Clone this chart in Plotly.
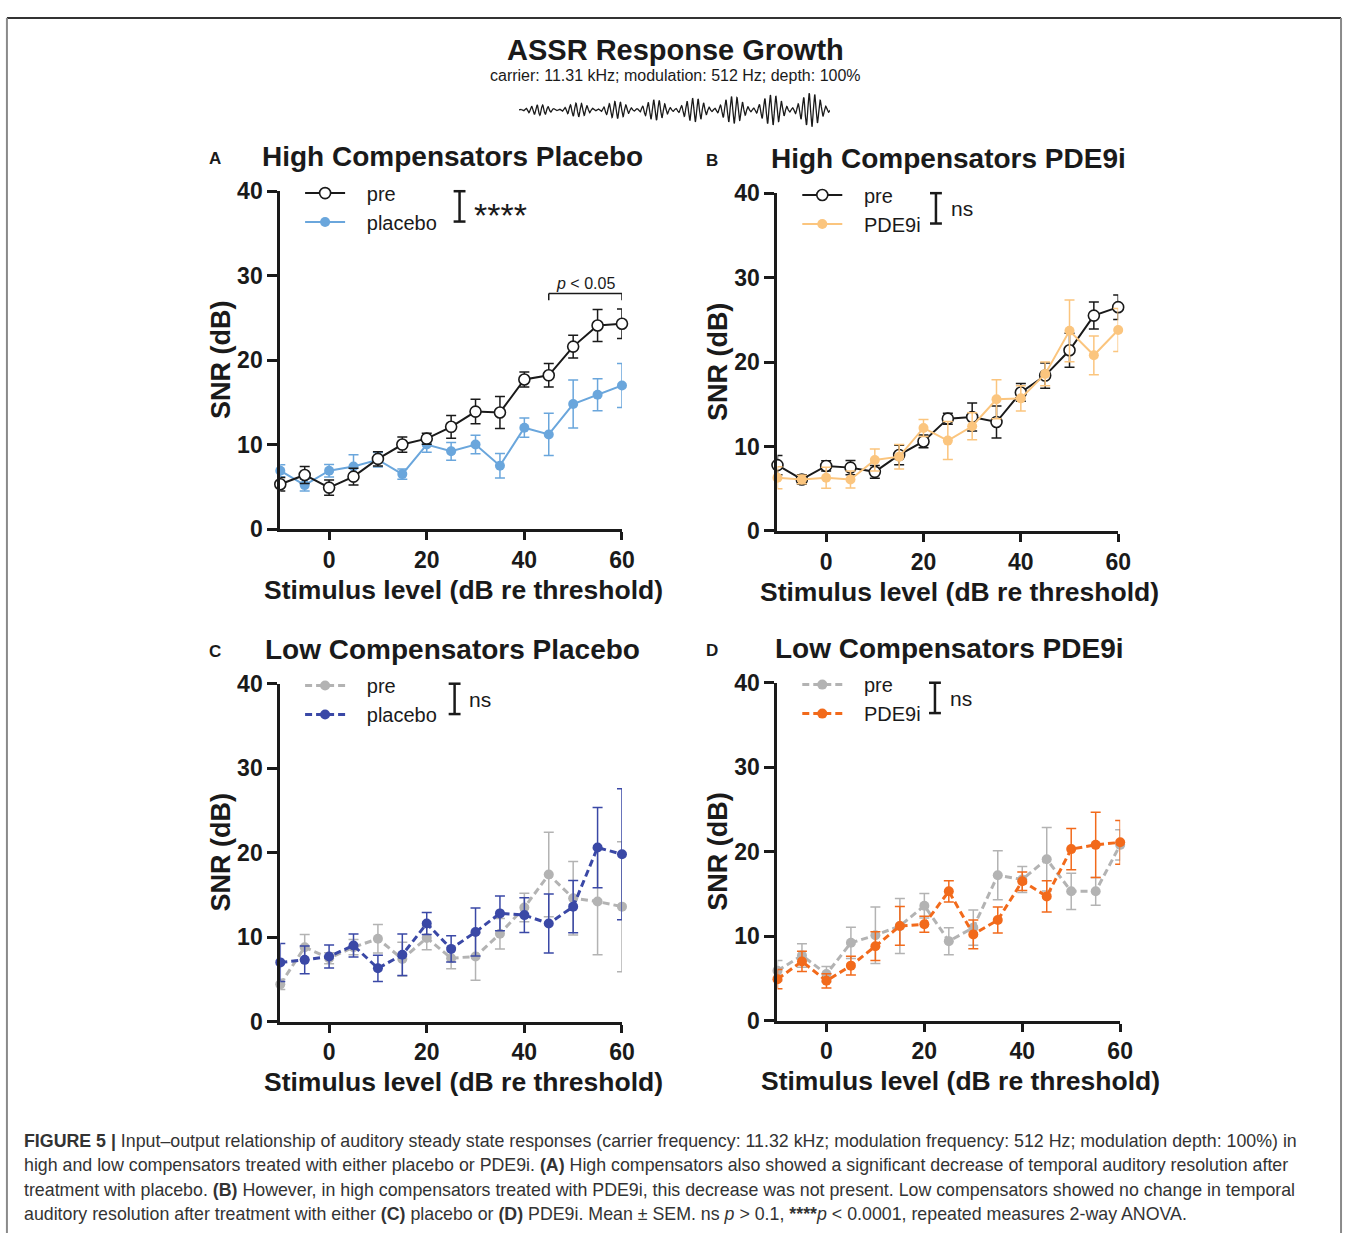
import numpy as np
import plotly.graph_objects as go

W, H = 1357, 1246

# Stimulus levels (dB re threshold)
levels = [-10, -5, 0, 5, 10, 15, 20, 25, 30, 35, 40, 45, 50, 55, 60]

# A: High compensators, placebo
a_pre = [5.3, 6.4, 4.9, 6.2, 8.3, 10.0, 10.7, 12.1, 13.9, 13.8, 17.7, 18.2, 21.6, 24.1, 24.3]
a_pre_sem = [0.8, 1.0, 0.9, 1.0, 0.85, 0.9, 0.65, 1.35, 1.45, 1.9, 0.9, 1.4, 1.35, 1.9, 1.75]
a_placebo = [6.9, 5.2, 6.9, 7.4, 8.2, 6.5, 10.0, 9.2, 10.0, 7.5, 12.0, 11.2, 14.8, 15.9, 17.0]
a_placebo_sem = [0.7, 0.7, 0.75, 1.4, 0.85, 0.6, 0.9, 1.05, 1.1, 1.45, 1.15, 2.5, 2.85, 1.9, 2.6]

# B: High compensators, PDE9i
b_pre = [7.8, 6.1, 7.7, 7.5, 7.0, 9.0, 10.6, 13.3, 13.5, 12.9, 16.4, 18.4, 21.4, 25.5, 26.5]
b_pre_sem = [1.15, 0.55, 0.6, 0.85, 0.75, 1.15, 0.75, 0.65, 1.65, 1.9, 1.05, 1.5, 2.0, 1.6, 1.45]
b_pde9i = [6.3, 6.1, 6.3, 6.1, 8.4, 8.8, 12.2, 10.7, 12.4, 15.6, 15.7, 18.6, 23.7, 20.8, 23.8]
b_pde9i_sem = [1.3, 0.5, 1.25, 1.0, 1.3, 1.45, 1.0, 2.25, 1.6, 2.3, 1.5, 1.4, 3.65, 2.3, 2.55]

# C: Low compensators, placebo
c_pre = [4.4, 8.8, 7.5, 8.8, 9.8, 7.4, 9.9, 7.5, 7.7, 10.4, 13.5, 17.4, 14.6, 14.2, 13.6]
c_pre_sem = [0.6, 1.5, 0.65, 0.9, 1.7, 2.0, 1.4, 1.25, 2.8, 1.8, 1.7, 5.0, 4.35, 6.3, 7.7]
c_placebo = [7.0, 7.3, 7.7, 9.0, 6.3, 7.9, 11.6, 8.6, 10.6, 12.8, 12.6, 11.6, 13.6, 20.6, 19.8]
c_placebo_sem = [2.25, 1.65, 1.35, 1.35, 1.55, 2.45, 1.3, 1.55, 2.85, 2.05, 2.05, 3.5, 3.1, 4.75, 7.75]

# D: Low compensators, PDE9i
d_pre = [5.9, 7.7, 5.5, 9.2, 10.1, 11.2, 13.6, 9.4, 11.0, 17.2, 16.7, 19.1, 15.3, 15.3, 20.8]
d_pre_sem = [1.2, 1.4, 0.9, 1.85, 3.35, 3.25, 1.45, 1.6, 2.1, 2.9, 1.55, 3.75, 2.15, 1.65, 1.8]
d_pde9i = [4.9, 7.0, 4.7, 6.5, 8.8, 11.2, 11.4, 15.3, 10.2, 11.9, 16.5, 14.7, 20.3, 20.8, 21.1]
d_pde9i_sem = [1.15, 1.2, 0.85, 1.1, 1.7, 2.3, 0.95, 1.25, 1.7, 1.55, 1.1, 1.85, 2.45, 3.85, 2.6]

panel_titles = ["High Compensators Placebo", "High Compensators PDE9i",
                "Low Compensators Placebo", "Low Compensators PDE9i"]
panel_letters = ["A", "B", "C", "D"]
stats_labels = ["****", "ns", "ns", "ns"]
x_ticks = [0, 20, 40, 60]
y_ticks = [0, 10, 20, 30, 40]

FONT = "Liberation Sans, Arial, sans-serif"
BLACK = "#1a1a1a"
LIGHT_BLUE = "#6aa6dc"
LIGHT_ORANGE = "#fbc57e"
GRAY = "#b3b3b3"
NAVY = "#3a48a6"
ORANGE = "#f26a1b"
PAD = "\u00a0\u00a0\u00a0"  # gap between legend glyph and label


def px(x):
    return x / W


def py(y):
    return 1 - y / H


# pixel boxes of each panel: (left, right, bottom, top)
boxes = [(283, 628, 527, 182), (785, 1129, 529, 184),
         (283, 628, 1030, 685), (785, 1131, 1029, 684)]

fig = go.Figure()


def series(panel, name, y, sem, color, dashed, open_marker, legend):
    ax = "" if panel == 0 else str(panel + 1)
    fig.add_trace(go.Scatter(
        x=levels, y=y, name=PAD + name, mode="lines+markers",
        xaxis="x" + ax, yaxis="y" + ax, legend=legend,
        line=dict(color=color, width=3 if dashed else 2,
                  dash="7px,4px" if dashed else "solid"),
        marker=dict(size=11 if open_marker else 10, symbol="circle",
                    color="white" if open_marker else color,
                    line=dict(color=color, width=1.6 if open_marker else 0)),
        error_y=dict(type="data", array=sem, visible=True, color=color,
                     thickness=1.5, width=5),
        cliponaxis=False,
    ))


# A
series(0, "placebo", a_placebo, a_placebo_sem, LIGHT_BLUE, False, False, "legend")
series(0, "pre", a_pre, a_pre_sem, BLACK, False, True, "legend")
# B
series(1, "pre", b_pre, b_pre_sem, BLACK, False, True, "legend2")
series(1, "PDE9i", b_pde9i, b_pde9i_sem, LIGHT_ORANGE, False, False, "legend2")
# C
series(2, "pre", c_pre, c_pre_sem, GRAY, True, False, "legend3")
series(2, "placebo", c_placebo, c_placebo_sem, NAVY, True, False, "legend3")
# D
series(3, "pre", d_pre, d_pre_sem, GRAY, True, False, "legend4")
series(3, "PDE9i", d_pde9i, d_pde9i_sem, ORANGE, True, False, "legend4")

# pre first in legend A
fig.data[1].legendrank = 1
fig.data[0].legendrank = 2

axis_common = dict(showgrid=False, zeroline=False, showline=True, linewidth=3,
                   linecolor=BLACK, ticks="outside", tickwidth=3, tickcolor=BLACK,
                   tickfont=dict(family=FONT, size=23, color=BLACK, weight="bold"),
                   fixedrange=True)

annotations = []
shapes = []
legend_defs = {}
for i, (l, r, b, t) in enumerate(boxes):
    ax = "" if i == 0 else str(i + 1)
    fig.update_layout(**{
        "xaxis" + ax: dict(axis_common, domain=[px(l), px(r)], range=[-10, 60],
                           tickvals=x_ticks, ticklen=8, anchor="y" + ax),
        "yaxis" + ax: dict(axis_common, domain=[py(b), py(t)], range=[0, 40],
                           tickvals=y_ticks, ticklen=10, anchor="x" + ax),
    })
    cx = (l + r) / 2
    # panel title and letter
    annotations.append(dict(x=px(cx + 1), y=py(t - 35), xref="paper", yref="paper",
                            text=panel_titles[i], showarrow=False,
                            font=dict(family=FONT, size=28, color=BLACK, weight="bold"),
                            xanchor="center", yanchor="middle"))
    annotations.append(dict(x=px(l - 66), y=py(t - 33), xref="paper", yref="paper",
                            text=panel_letters[i], showarrow=False,
                            font=dict(family=FONT, size=17, color=BLACK, weight="bold"),
                            xanchor="center", yanchor="middle"))
    # axis titles
    annotations.append(dict(x=px(l - 60), y=py((t + b) / 2), xref="paper", yref="paper",
                            text="SNR (dB)", showarrow=False, textangle=-90,
                            font=dict(family=FONT, size=27, color=BLACK, weight="bold"),
                            xanchor="center", yanchor="middle"))
    annotations.append(dict(x=px(cx + 12), y=py(b + 62), xref="paper", yref="paper",
                            text="Stimulus level (dB re threshold)", showarrow=False,
                            font=dict(family=FONT, size=26.5, color=BLACK, weight="bold"),
                            xanchor="center", yanchor="middle"))
    # significance bracket between the legend entries
    bx = [l + 181, l + 160, l + 176, l + 159][i]
    shapes.append(dict(type="line", xref="paper", yref="paper",
                       x0=px(bx), x1=px(bx), y0=py(t), y1=py(t + 31),
                       line=dict(color=BLACK, width=2.5)))
    for yy in (t, t + 31):
        shapes.append(dict(type="line", xref="paper", yref="paper",
                           x0=px(bx - 6), x1=px(bx + 6), y0=py(yy), y1=py(yy),
                           line=dict(color=BLACK, width=2.5)))
    star = stats_labels[i] == "****"
    annotations.append(dict(x=px(bx + 13), y=py(t + (24 if star else 16)),
                            xref="paper", yref="paper",
                            text=stats_labels[i], showarrow=False,
                            font=dict(family=FONT, size=34 if star else 21, color=BLACK),
                            xanchor="left", yanchor="middle"))
    legend_defs["legend" + ax] = dict(
        x=px(l + 20), y=py(t - 18), xanchor="left", yanchor="top",
        bgcolor="rgba(0,0,0,0)", borderwidth=0, itemwidth=40,
        font=dict(family=FONT, size=20, color=BLACK),
        traceorder="normal", itemclick=False, itemdoubleclick=False)

fig.update_layout(**legend_defs)

# post-hoc bracket in panel A (45-60 dB)
shapes.append(dict(type="line", xref="x", yref="y", x0=45, x1=60, y0=27.9, y1=27.9,
                   line=dict(color=BLACK, width=1.5)))
for xx in (45, 60):
    shapes.append(dict(type="line", xref="x", yref="y", x0=xx, x1=xx, y0=27.9, y1=27.1,
                       line=dict(color=BLACK, width=1.5)))
annotations.append(dict(x=52.5, y=29.1, xref="x", yref="y",
                        text="<i>p</i> &lt; 0.05", showarrow=False,
                        font=dict(family=FONT, size=16, color=BLACK),
                        xanchor="center", yanchor="middle"))

# figure heading
annotations.append(dict(x=px(682), y=py(38), xref="paper", yref="paper",
                        text="ASSR Response Growth", showarrow=False,
                        font=dict(family=FONT, size=29, color=BLACK, weight="bold"),
                        xanchor="center", yanchor="middle"))
annotations.append(dict(x=px(682), y=py(64), xref="paper", yref="paper",
                        text="carrier: 11.31 kHz; modulation: 512 Hz; depth: 100%",
                        showarrow=False, font=dict(family=FONT, size=16, color=BLACK),
                        xanchor="center", yanchor="middle"))

# amplitude-modulated stimulus sketch with rising level
t_w = np.linspace(0, 8, 2400)
envelope = (0.25 + 0.75 * t_w / 8) * (0.12 + 0.88 * (0.5 - 0.5 * np.cos(2 * np.pi * t_w)))
wave = envelope * np.sin(2 * np.pi * 7 * t_w)
fig.add_trace(go.Scatter(x=t_w, y=wave, xaxis="x5", yaxis="y5", mode="lines",
                         line=dict(color=BLACK, width=1.3), showlegend=False,
                         hoverinfo="skip"))
fig.update_layout(
    xaxis5=dict(domain=[px(524), px(838)], range=[0, 8], visible=False, anchor="y5",
                fixedrange=True),
    yaxis5=dict(domain=[py(118), py(80)], range=[-1.05, 1.05], visible=False,
                anchor="x5", fixedrange=True),
)

# caption
caption = [
    "<b>FIGURE 5 |</b> Input–output relationship of auditory steady state responses "
    "(carrier frequency: 11.32 kHz; modulation frequency: 512 Hz; modulation depth: 100%) in",
    "high and low compensators treated with either placebo or PDE9i. <b>(A)</b> High "
    "compensators also showed a significant decrease of temporal auditory resolution after",
    "treatment with placebo. <b>(B)</b> However, in high compensators treated with PDE9i, "
    "this decrease was not present. Low compensators showed no change in temporal",
    "auditory resolution after treatment with either <b>(C)</b> placebo or <b>(D)</b> PDE9i. "
    "Mean ± SEM. ns <i>p</i> &gt; 0.1, <b>****</b><i>p</i> &lt; 0.0001, repeated measures "
    "2-way ANOVA.",
]
for k, line in enumerate(caption):
    annotations.append(dict(x=px(22), y=py(1152 + 25 * k), xref="paper", yref="paper",
                            text=line, showarrow=False, align="left",
                            font=dict(family=FONT, size=17.8, color="#333333"),
                            xanchor="left", yanchor="middle"))

# page frame
shapes.append(dict(type="line", xref="paper", yref="paper", x0=px(7), x1=px(1354),
                   y0=py(5), y1=py(5), line=dict(color="#333333", width=2)))
for xx in (7, 1354):
    shapes.append(dict(type="line", xref="paper", yref="paper", x0=px(xx), x1=px(xx),
                       y0=py(5), y1=py(1246), line=dict(color="#8a8a8a", width=2)))

fig.update_layout(
    width=W, height=H, margin=dict(l=0, r=0, t=0, b=0),
    paper_bgcolor="white", plot_bgcolor="white",
    annotations=annotations, shapes=shapes,
    font=dict(family=FONT, color=BLACK),
)

fig.write_html("out.html")
